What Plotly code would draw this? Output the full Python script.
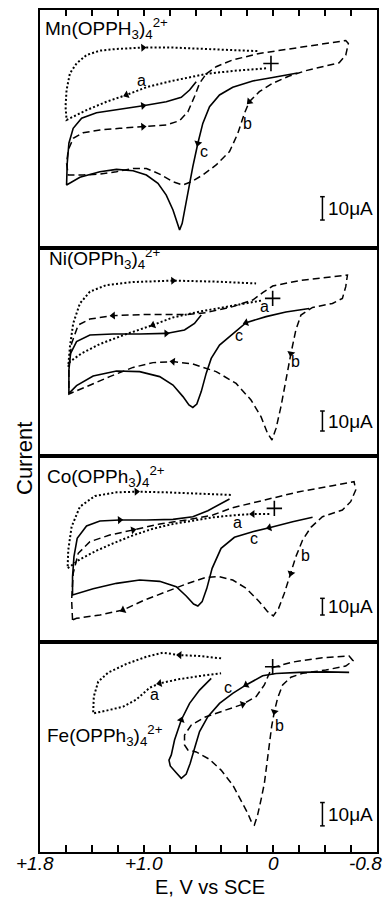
import math
import plotly.graph_objects as go

# ---------------- data (E in V vs SCE, current in uA, arbitrary offset per panel) -------------
# Panel 1: Mn(OPPH3)4 2+
mn_dot_E = [0.056,0.313,0.518,0.774,0.979,1.133,1.287,1.441,1.595,1.603,1.595,1.569,1.518,1.441,1.338,1.210,1.005,0.774,0.569,0.313,0.121]
mn_dot_I = [77.0,75.9,74.6,71.7,68.9,65.6,62.7,59.1,54.9,60.6,67.7,74.9,79.1,82.7,84.6,85.3,85.9,85.9,85.4,84.9,84.4]
mn_dash_E = [0.518,0.441,0.313,0.108,-0.097,-0.328,-0.559,-0.579,-0.559,-0.508,-0.405,-0.251,-0.123,0.005,0.108,0.185,0.223,0.274,0.338,0.441,0.544,0.633,0.697,0.774,0.877,0.979,1.082,1.210,1.338,1.467,1.582,1.595,1.582,1.544,1.467,1.338,1.185,1.005,0.826,0.723,0.659,0.608,0.569,0.518]
mn_dash_I = [74.6,77.7,80.6,83.4,85.1,86.9,88.9,87.7,82.7,79.4,78.0,76.0,73.7,70.6,67.0,62.7,57.7,49.1,41.3,35.6,31.3,28.4,27.0,28.4,31.7,34.1,34.1,32.7,31.7,31.3,31.3,36.3,42.0,47.0,49.4,50.6,51.3,52.0,52.7,54.6,58.4,64.9,70.6,74.6]
mn_solid_E = [0.595,0.646,0.710,0.826,1.005,1.210,1.364,1.479,1.544,1.577,1.590,1.595,1.492,1.338,1.210,1.082,0.979,0.890,0.826,0.774,0.744,0.723,0.703,0.679,0.651,0.621,0.582,0.544,0.492,0.415,0.313,0.159,0.005,-0.149,-0.187]
mn_solid_I = [71.3,67.7,64.6,62.7,61.0,59.4,58.0,55.6,51.3,44.9,36.3,27.0,30.3,32.7,33.7,33.1,31.3,27.7,22.7,16.3,10.6,7.7,10.6,17.7,26.3,34.9,44.9,53.4,60.6,65.6,68.9,71.6,73.1,74.6,75.0]

# Panel 2: Ni(OPPh3)4 2+
ni_dot_E = [0.095,0.313,0.569,0.774,0.928,1.133,1.338,1.479,1.569,1.582,1.569,1.544,1.492,1.415,1.287,1.082,0.774,0.441,0.133]
ni_dot_I = [77.7,75.3,72.2,69.3,65.5,61.0,56.0,51.3,47.2,44.7,54.7,66.3,76.3,82.2,85.5,87.0,87.7,87.2,86.3]
ni_dash_E = [1.577,1.556,1.505,1.415,1.236,0.979,0.672,0.518,0.313,0.159,0.082,0.005,-0.200,-0.405,-0.572,-0.559,-0.533,-0.456,-0.303,-0.213,-0.174,-0.136,-0.097,-0.059,-0.021,0.010,0.044,0.095,0.172,0.287,0.441,0.621,0.774,0.928,1.082,1.262,1.441,1.577,1.577]
ni_dash_I = [44.7,56.3,65.5,68.5,70.2,70.8,70.7,71.7,74.7,78.0,81.7,85.0,87.7,89.2,90.5,84.7,78.8,76.3,74.3,70.5,63.0,51.3,38.0,24.7,13.8,8.0,11.3,19.7,28.0,36.3,42.2,46.0,47.2,46.7,44.3,39.7,34.7,31.0,44.7]
ni_solid_E = [0.556,0.608,0.685,0.826,1.031,1.236,1.415,1.518,1.564,1.577,1.577,1.518,1.390,1.210,1.031,0.877,0.774,0.697,0.651,0.621,0.590,0.556,0.518,0.479,0.415,0.313,0.210,0.056,-0.097,-0.277]
ni_solid_I = [70.5,66.3,63.0,61.3,61.0,61.0,60.5,57.2,51.3,43.0,31.3,35.2,40.0,42.5,42.2,39.7,35.5,29.7,25.5,24.3,26.0,32.2,41.3,48.8,55.5,61.3,66.7,69.7,72.0,73.8]

# Panel 3: Co(OPPh3)4 2+
co_dot_E = [0.031,0.159,0.313,0.467,0.621,0.774,0.928,1.082,1.236,1.364,1.492,1.587,1.582,1.556,1.492,1.377,1.210,1.056,0.826,0.569,0.313]
co_dot_I = [76.8,76.8,76.0,74.8,72.8,70.8,68.0,64.0,59.2,54.8,49.6,44.2,55.2,69.2,81.2,87.6,89.8,90.2,89.8,89.0,88.2]
co_dash_E = [1.549,1.556,1.544,1.505,1.415,1.262,1.082,0.877,0.672,0.467,0.313,0.056,-0.200,-0.456,-0.623,-0.636,-0.597,-0.533,-0.379,-0.290,-0.226,-0.174,-0.136,-0.085,-0.041,0.000,0.044,0.108,0.210,0.313,0.415,0.518,0.672,0.826,1.005,1.159,1.338,1.518,1.549]
co_dash_I = [13.2,25.2,41.2,53.2,60.2,64.2,67.2,70.8,73.2,76.2,80.6,85.6,90.2,93.8,96.2,91.2,84.2,79.2,75.2,68.8,61.2,51.2,41.2,29.2,20.2,15.6,18.2,24.2,32.2,37.2,39.2,38.8,34.8,30.2,24.8,19.2,16.2,14.2,13.2]
co_solid_E = [0.338,0.415,0.505,0.621,0.774,0.979,1.185,1.338,1.441,1.513,1.538,1.549,1.549,1.390,1.210,1.031,0.877,0.749,0.672,0.615,0.582,0.549,0.513,0.472,0.403,0.300,0.159,0.031,-0.149,-0.303]
co_solid_I = [85.8,82.8,78.8,75.2,73.6,73.2,73.2,72.6,69.6,62.2,51.2,39.2,28.2,32.0,35.2,37.2,36.4,33.2,27.6,22.8,21.6,24.2,32.2,44.2,56.2,62.8,66.2,68.6,72.2,74.8]

# Panel 4: Fe(OPPh3)4 2+
fe_dot_E = [0.403,0.569,0.723,0.851,0.979,1.133,1.274,1.351,1.385,1.390,1.287,1.159,1.056,0.954,0.877,0.723,0.569,0.403]
fe_dot_I = [83.0,84.0,84.4,85.4,83.7,80.6,76.9,73.0,66.6,59.4,60.6,62.3,65.4,70.4,72.3,74.1,75.4,76.6]
fe_dash_E = [0.005,-0.149,-0.379,-0.585,-0.615,-0.559,-0.405,-0.226,-0.136,-0.072,-0.033,-0.008,0.013,0.031,0.051,0.069,0.095,0.121,0.146,0.164,0.197,0.249,0.313,0.403,0.492,0.595,0.659,0.685,0.685,0.633,0.531,0.364,0.236,0.133,0.069,0.031,0.005]
fe_dash_I = [79.1,81.4,83.3,84.0,82.0,79.7,78.0,76.6,74.9,71.6,65.9,60.1,53.7,45.1,35.9,29.4,22.3,15.9,11.6,12.3,16.6,22.3,28.7,35.1,39.7,42.9,43.7,45.9,50.1,54.4,57.7,60.9,63.3,66.6,71.6,76.6,79.1]
fe_solid_E = [0.479,0.569,0.646,0.710,0.762,0.787,0.805,0.795,0.749,0.710,0.672,0.641,0.608,0.569,0.505,0.415,0.313,0.210,0.082,-0.021,-0.200,-0.405,-0.585]
fe_solid_I = [74.4,69.4,63.7,56.6,48.0,41.6,39.4,36.9,34.0,31.6,33.4,38.0,44.4,51.6,58.0,63.7,68.0,71.6,75.5,76.5,77.0,77.2,77.0]

# starting-potential "+" marks
start_E = [0.018, 0.005, -0.008, 0.005]
start_I = [79.1, 78.8, 80.2, 79.4]

panel_titles = ["Mn(OPPH<sub>3</sub>)<sub>4</sub><sup>2+</sup>",
                "Ni(OPPh<sub>3</sub>)<sub>4</sub><sup>2+</sup>",
                "Co(OPPh<sub>3</sub>)<sub>4</sub><sup>2+</sup>",
                "Fe(OPPh<sub>3</sub>)<sub>4</sub><sup>2+</sup>"]
title_E = [1.777, 1.746, 1.762, 1.762]
title_I = [94.0, 99.0, 99.5, 50.0]

# curve letter labels (a dotted, b dashed, c solid)
label_text = ["a", "b", "c"]
label_E = [[1.018, 0.197, 0.531], [0.069, -0.174, 0.262], [0.274, -0.251, 0.146], [0.915, -0.046, 0.351]]
label_I = [[72.0, 53.4, 41.3], [75.0, 47.2, 60.5], [71.6, 52.2, 62.2], [67.3, 54.4, 70.4]]

# 10 uA scale bars (centre current of the bar in each panel)
bar_E = -0.379
bar_centre_I = [17.0, 17.5, 21.2, 16.2]
bar_size = 10.0

# current ranges of the panels
y_ranges = [[0, 102], [0, 104], [0, 111.6], [0, 90]]
domains = [[0.7173, 1.0], [0.4703, 0.7173], [0.2494, 0.4703], [0.0, 0.2494]]

tick_vals = [1.8, 1.6, 1.4, 1.2, 1.0, 0.8, 0.6, 0.4, 0.2, 0.0, -0.2, -0.4, -0.6, -0.8]
tick_text = ["+1.8", "", "", "", "+1.0", "", "", "", "", "0", "", "", "", "-0.8"]

curves = [
    ((mn_dot_E, mn_dot_I), (mn_dash_E, mn_dash_I), (mn_solid_E, mn_solid_I)),
    ((ni_dot_E, ni_dot_I), (ni_dash_E, ni_dash_I), (ni_solid_E, ni_solid_I)),
    ((co_dot_E, co_dot_I), (co_dash_E, co_dash_I), (co_solid_E, co_solid_I)),
    ((fe_dot_E, fe_dot_I), (fe_dash_E, fe_dash_I), (fe_solid_E, fe_solid_I)),
]
# arrow heads: (curve index 0=dotted 1=dashed 2=solid, point index, direction along the list)
arrows = [
    [(0, 5, 1), (0, 16, 1), (1, 37, 1), (1, 15, 1), (2, 4, -1), (2, 26, -1)],
    [(0, 4, 1), (0, 16, 1), (1, 4, -1), (1, 32, 1), (1, 21, 1), (2, 3, -1), (2, 26, -1)],
    [(0, 1, 1), (0, 17, 1), (1, 6, 1), (1, 35, 1), (1, 22, 1), (2, 6, -1), (2, 27, -1)],
    [(0, 2, 1), (0, 14, -1), (1, 11, 1), (1, 32, 1), (2, 3, -1), (2, 17, -1)],
]

# ---------------- figure -------------
W, H = 388, 897
ML, MR, MT, MB = 40, 11, 10, 45
PW, PH = W - ML - MR, H - MT - MB
FONT = "Liberation Sans, Arial, Helvetica, sans-serif"

styles = [dict(color="black", width=2.0, dash="2px,2.2px"),
          dict(color="black", width=1.5, dash="7px,4px"),
          dict(color="black", width=1.6)]

fig = go.Figure()
annotations = []
shapes = []
layout = {}

for k in range(4):
    sfx = "" if k == 0 else str(k + 1)
    xr, yr = "x" + sfx, "y" + sfx
    for ci, (xs, ys) in enumerate(curves[k]):
        fig.add_trace(go.Scatter(x=xs, y=ys, mode="lines", line=styles[ci],
                                 xaxis=xr, yaxis=yr, showlegend=False, hoverinfo="skip"))
    fig.add_trace(go.Scatter(x=[start_E[k]], y=[start_I[k]], mode="markers",
                             marker=dict(symbol="cross-thin", size=11, line=dict(color="black", width=1.6)),
                             xaxis=xr, yaxis=yr, showlegend=False, hoverinfo="skip"))

    # arrowheads as rotated triangles placed on curve points
    ppv = PW / 2.6
    ppu = PH * (domains[k][1] - domains[k][0]) / (y_ranges[k][1] - y_ranges[k][0])
    ax_, ay_, ang_ = [], [], []
    for ci, i, sgn in arrows[k]:
        xs, ys = curves[k][ci]
        j = i - sgn
        mx = (xs[j] - xs[i]) * ppv          # screen x motion (axis reversed)
        my = (ys[j] - ys[i]) * ppu          # screen y motion (down positive)
        ax_.append(xs[i]); ay_.append(ys[i])
        ang_.append(math.degrees(math.atan2(mx, -my)))
    fig.add_trace(go.Scatter(x=ax_, y=ay_, mode="markers",
                             marker=dict(symbol="triangle-up", size=7, angle=ang_, color="black",
                                         line=dict(width=0)),
                             xaxis=xr, yaxis=yr, showlegend=False, hoverinfo="skip"))

    annotations.append(dict(x=title_E[k], y=title_I[k], xref=xr, yref=yr, text=panel_titles[k],
                            showarrow=False, xanchor="left", yanchor="middle",
                            font=dict(family=FONT, size=19, color="black")))
    for li in range(3):
        annotations.append(dict(x=label_E[k][li], y=label_I[k][li], xref=xr, yref=yr,
                                text=label_text[li], showarrow=False,
                                font=dict(family=FONT, size=16, color="black")))
    # scale bar
    c = bar_centre_I[k]
    lo, hi = c - bar_size / 2, c + bar_size / 2
    for (x0, y0, x1, y1) in [(bar_E, lo, bar_E, hi), (bar_E + 0.018, lo, bar_E - 0.018, lo),
                             (bar_E + 0.018, hi, bar_E - 0.018, hi)]:
        shapes.append(dict(type="line", xref=xr, yref=yr, x0=x0, y0=y0, x1=x1, y1=y1,
                           line=dict(color="black", width=1.5)))
    annotations.append(dict(x=bar_E - 0.025, y=c, xref=xr, yref=yr, text="10\u03bcA",
                            showarrow=False, xanchor="left", yanchor="middle",
                            font=dict(family=FONT, size=19, color="black")))

    xa = dict(range=[1.8, -0.8], domain=[0, 1], anchor=yr, showline=True, mirror=True,
              linecolor="black", linewidth=2, showgrid=False, zeroline=False,
              tickmode="array", tickvals=tick_vals,
              showticklabels=False, ticks="", automargin=False, fixedrange=True)
    if k == 0:
        xa.update(side="top", ticks="inside", ticklen=6, tickwidth=1.5, tickcolor="black")
    if k == 3:
        xa.update(ticks="inside", ticklen=7, tickwidth=1.5, tickcolor="black")
    ya = dict(range=y_ranges[k], domain=domains[k], anchor=xr, showline=True, mirror=True,
              linecolor="black", linewidth=2, showgrid=False, zeroline=False,
              showticklabels=False, ticks="", automargin=False, fixedrange=True)
    layout["xaxis" + sfx] = xa
    layout["yaxis" + sfx] = ya

# bottom tick labels (placed under the lowest panel's axis)
for v, t in zip(tick_vals, tick_text):
    if not t:
        continue
    if v == tick_vals[0]:
        anchor, shift = "center", -5
    elif v == tick_vals[-1]:
        anchor, shift = "right", 7
    else:
        anchor, shift = "center", 0
    annotations.append(dict(x=v, y=-(863 - (H - MB)) / PH, xref="x4", yref="paper", text=t,
                            showarrow=False, xanchor=anchor, yanchor="middle", xshift=shift,
                            font=dict(family=FONT, size=19, color="black", style="italic")))

annotations.append(dict(x=(210 - ML) / PW, y=-(887 - (H - MB)) / PH, xref="paper", yref="paper",
                        text="E, V vs SCE", showarrow=False, xanchor="center", yanchor="middle",
                        font=dict(family=FONT, size=20, color="black")))
annotations.append(dict(x=(24 - ML) / PW, y=((H - MB) - 459) / PH, xref="paper", yref="paper",
                        text="Current", textangle=-90, showarrow=False, xanchor="center",
                        yanchor="middle", font=dict(family=FONT, size=22, color="black")))

fig.update_layout(width=W, height=H, margin=dict(l=ML, r=MR, t=MT, b=MB, pad=0),
                  paper_bgcolor="white", plot_bgcolor="white", template="none",
                  annotations=annotations, shapes=shapes, **layout)

fig.write_html("out.html", config={"displayModeBar": False})
